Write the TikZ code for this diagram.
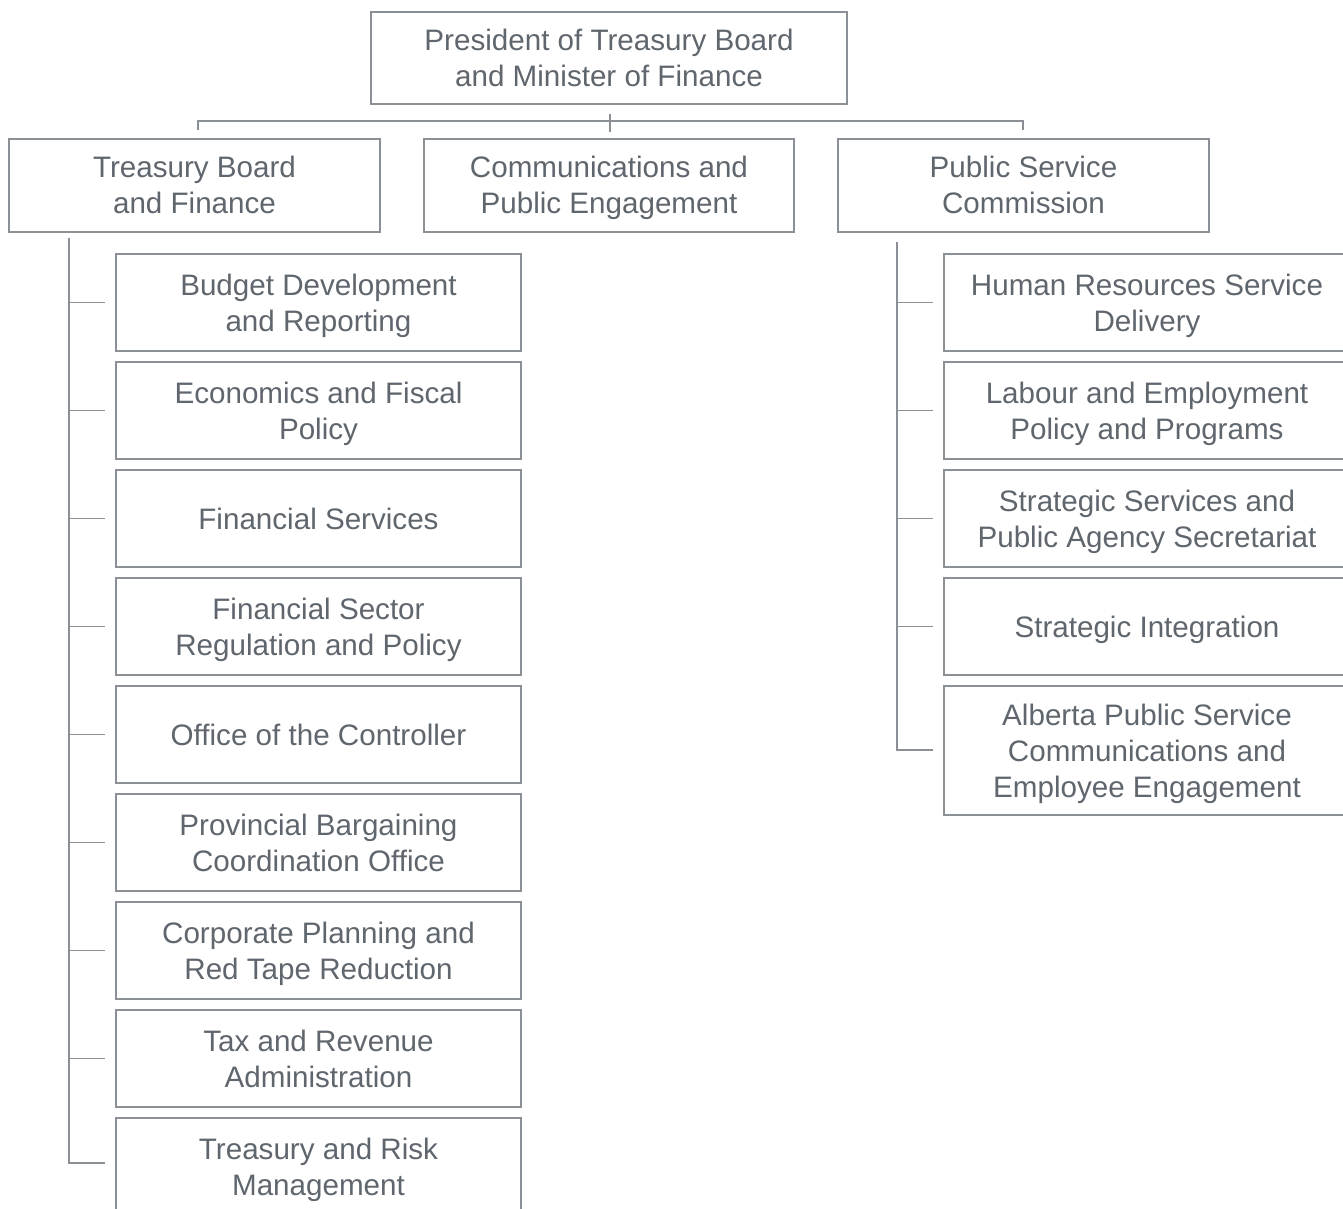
\documentclass[tikz,border=0pt]{standalone}
\usepackage{fontspec}
\setmainfont{Liberation Sans}
\usetikzlibrary{calc}
\definecolor{edge}{HTML}{8A9096}
\definecolor{ink}{HTML}{5F666D}
% invisible rules fixing the height of the first line and the depth of the last
\newcommand{\topstrut}{\rule{0pt}{29pt}}
\newcommand{\botstrut}{\rule[-8pt]{0pt}{8pt}}
\newcommand{\boxtext}[1]{\topstrut#1\botstrut}
\begin{document}
\begin{tikzpicture}[x=1pt,y=-1pt,
  box/.style={draw=edge, line width=1.5pt, fill=white, text=ink, align=center,
    inner sep=0pt, font=\fontsize{29.6}{36}\selectfont},
  wire/.style={draw=edge, line width=1.5pt}]
\useasboundingbox (0,0) rectangle (1343,1209);
\begin{scope}
\clip (0,0) rectangle (1343,1209);
% top level
\node[box, minimum width=476pt, minimum height=92pt] (pres) at (609,58)
  {\boxtext{President of Treasury Board\\and Minister of Finance}};
% divisions
\node[box, minimum width=371pt, minimum height=93pt] (tbf) at (194.5,185.5)
  {\boxtext{Treasury Board\\and Finance}};
\node[box, minimum width=370pt, minimum height=93pt] (cpe) at (609,185.5)
  {\boxtext{Communications and\\Public Engagement}};
\node[box, minimum width=371pt, minimum height=93pt] (psc) at (1023.5,185.5)
  {\boxtext{Public Service\\Commission}};
% branches under Treasury Board and Finance
\foreach \name/\y/\txt in {
  l1/302.5/{Budget Development\\and Reporting},
  l2/410.5/{Economics and Fiscal\\Policy},
  l3/518.5/{Financial Services},
  l4/626.5/{Financial Sector\\Regulation and Policy},
  l5/734.5/{Office of the Controller},
  l6/842.5/{Provincial Bargaining\\Coordination Office},
  l7/950.5/{Corporate Planning and\\Red Tape Reduction},
  l8/1058.5/{Tax and Revenue\\Administration},
  l9/1166.5/{Treasury and Risk\\Management}}
  \node[box, minimum width=405pt, minimum height=97pt] (\name) at (318.5,\y) {\boxtext{\txt}};
% branches under Public Service Commission
\foreach \name/\y/\txt in {
  r1/302.5/{Human Resources Service\\Delivery},
  r2/410.5/{Labour and Employment\\Policy and Programs},
  r3/518.5/{Strategic Services and\\Public Agency Secretariat},
  r4/626.5/{Strategic Integration}}
  \node[box, minimum width=406pt, minimum height=97pt] (\name) at (1147,\y) {\boxtext{\txt}};
\node[box, minimum width=406pt, minimum height=129pt] (r5) at (1147,750.5)
  {\boxtext{Alberta Public Service\\Communications and\\Employee Engagement}};
% top connector
\coordinate (hub) at ($(pres.south)+(1,18)$);
\draw[wire] ($(hub)+(0,-9)$) -- ($(hub)+(0,9)$);
\draw[wire] ($(tbf.north)+(3.5,-8)$) -- ++(0,-9) -| ($(psc.north)+(-0.5,-8)$);
% left bracket
\coordinate (lb) at (69,238);
\coordinate (lbe) at (69,1163);
\draw[wire] (lb) -- (lbe) -- ($(lbe -| l9.west)+(-10,0)$);
\foreach \n in {l1,l2,l3,l4,l5,l6,l7,l8}
  \draw[wire] (lb |- \n.west) -- ($(\n.west)+(-10,0)$);
% right bracket
\coordinate (rb) at (897,242);
\coordinate (rbe) at (897,750);
\draw[wire] (rb) -- (rbe) -- ($(rbe -| r5.west)+(-10,0)$);
\foreach \n in {r1,r2,r3,r4}
  \draw[wire] (rb |- \n.west) -- ($(\n.west)+(-10,0)$);
\end{scope}
\end{tikzpicture}
\end{document}
